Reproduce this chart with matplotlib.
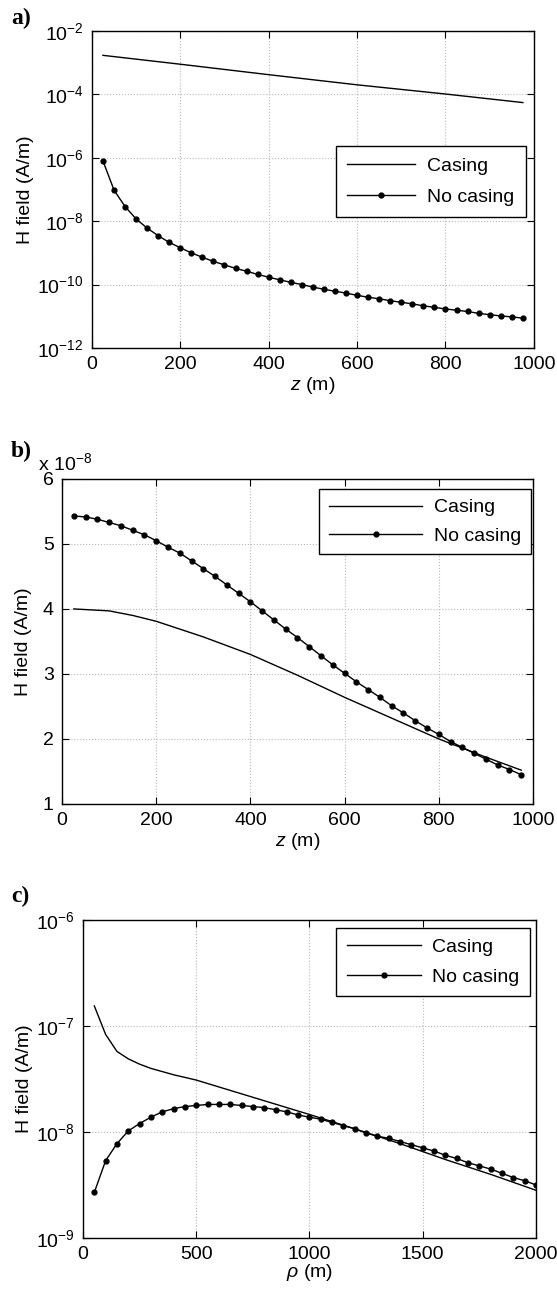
import numpy as np
import matplotlib
matplotlib.use('Agg')
import matplotlib.pyplot as plt
from matplotlib.ticker import LogLocator, NullLocator

plt.rcParams['font.family'] = ['Liberation Sans', 'DejaVu Sans']
plt.rcParams['mathtext.fontset'] = 'custom'
plt.rcParams['mathtext.rm'] = 'Liberation Sans'
plt.rcParams['mathtext.it'] = 'Liberation Sans:italic'
plt.rcParams['font.size'] = 14

# (a) H field vs depth z, log10 values
z_cas_a = [25, 200, 400, 600, 800, 975]
logh_cas_a = [-2.77, -3.05, -3.38, -3.70, -3.99, -4.26]
z_nc_a = list(range(25, 1000, 25))
logh_nc_a = [-6.10, -7.02, -7.54, -7.93, -8.22, -8.46, -8.67, -8.84, -9.00, -9.14,
             -9.27, -9.38, -9.49, -9.58, -9.68, -9.77, -9.85, -9.93, -10.00, -10.08,
             -10.15, -10.21, -10.27, -10.34, -10.40, -10.45, -10.51, -10.56, -10.61,
             -10.67, -10.72, -10.77, -10.81, -10.85, -10.91, -10.95, -10.99, -11.02,
             -11.06]

# (b) H field vs depth z, in units of 1e-8 A/m
z_cas_b = [25, 100, 150, 200, 300, 400, 500, 600, 700, 800, 900, 975]
h_cas_b = [4.00, 3.97, 3.90, 3.81, 3.57, 3.30, 2.98, 2.64, 2.32, 2.00, 1.72, 1.52]
z_nc_b = list(range(25, 1000, 25))
h_nc_b = [5.43, 5.415, 5.38, 5.33, 5.28, 5.21, 5.14, 5.05, 4.95, 4.86, 4.74, 4.62,
          4.50, 4.37, 4.24, 4.11, 3.97, 3.83, 3.69, 3.56, 3.42, 3.28, 3.14, 3.01,
          2.88, 2.76, 2.64, 2.51, 2.40, 2.28, 2.17, 2.07, 1.96, 1.87, 1.78, 1.69,
          1.60, 1.53, 1.45]

# (c) H field vs horizontal offset rho, log10 values
rho_cas_c = [50, 100, 150, 200, 250, 300, 400, 500, 600, 700, 800, 900, 1000,
             1200, 1400, 1600, 1800, 2000]
logh_cas_c = [-6.81, -7.08, -7.24, -7.31, -7.36, -7.40, -7.46, -7.51, -7.575,
              -7.64, -7.705, -7.77, -7.835, -7.97, -8.11, -8.26, -8.40, -8.55]
rho_nc_c = list(range(50, 2001, 50))
logh_nc_c = [-8.57, -8.27, -8.11, -7.99, -7.92, -7.86, -7.81, -7.78, -7.76, -7.75,
             -7.74, -7.74, -7.74, -7.75, -7.76, -7.77, -7.79, -7.81, -7.84, -7.86,
             -7.88, -7.91, -7.94, -7.97, -8.01, -8.04, -8.06, -8.09, -8.12, -8.15,
             -8.18, -8.22, -8.25, -8.29, -8.32, -8.35, -8.39, -8.43, -8.46, -8.50]


def style_axes(ax):
    ax.grid(True, linestyle=':', color='#b8b8b8', linewidth=0.8)
    ax.tick_params(direction='in', top=True, right=True, length=5, width=0.8,
                   labelsize=14, pad=6)
    ax.tick_params(which='minor', length=0)
    for sp in ax.spines.values():
        sp.set_linewidth(1.0)


def draw_lines(ax, xc, yc, xn, yn):
    ax.plot(xc, yc, color='black', linewidth=1.0, label='Casing')
    ax.plot(xn, yn, color='black', linewidth=1.0, marker='o', markersize=3.5,
            label='No casing')


def add_legend(ax, anchor, pad=0.6, spacing=0.6, hlen=3.8):
    leg = ax.legend(loc='upper right', bbox_to_anchor=anchor, borderaxespad=0,
                    fancybox=False, framealpha=1, edgecolor='black',
                    handlelength=hlen, handletextpad=0.6, fontsize=14,
                    borderpad=pad, labelspacing=spacing)
    leg.get_frame().set_linewidth(1.0)


fig = plt.figure(figsize=(5.57, 12.94), dpi=100)

# panel a
ax1 = fig.add_axes([0.165, 0.7311, 0.7935, 0.245])
draw_lines(ax1, z_cas_a, 10.0 ** np.array(logh_cas_a),
           z_nc_a, 10.0 ** np.array(logh_nc_a))
ax1.set_yscale('log')
ax1.set_xlim(0, 1000)
ax1.set_ylim(1e-12, 1e-2)
ax1.yaxis.set_major_locator(LogLocator(base=100.0))
ax1.yaxis.set_minor_locator(NullLocator())
ax1.set_xticks([0, 200, 400, 600, 800, 1000])
ax1.set_xlabel('$z$ (m)', labelpad=1)
ax1.set_ylabel('H field (A/m)', labelpad=2)
style_axes(ax1)
add_legend(ax1, (0.982, 0.637), pad=0.6, spacing=0.65, hlen=3.5)

# panel b
ax2 = fig.add_axes([0.1113, 0.3787, 0.8456, 0.2512])
draw_lines(ax2, z_cas_b, h_cas_b, z_nc_b, h_nc_b)
ax2.set_xlim(0, 1000)
ax2.set_ylim(1, 6)
ax2.set_xticks([0, 200, 400, 600, 800, 1000])
ax2.set_yticks([1, 2, 3, 4, 5, 6])
ax2.set_xlabel('$z$ (m)', labelpad=1)
ax2.set_ylabel('H field (A/m)', labelpad=8)
ax2.text(-0.05, 1.015, r'x 10$^{-8}$', transform=ax2.transAxes,
         ha='left', va='bottom', fontsize=14)
style_axes(ax2)
add_legend(ax2, (0.996, 0.969), pad=0.5, spacing=0.55, hlen=4.8)

# panel c
ax3 = fig.add_axes([0.149, 0.0433, 0.8133, 0.2457])
draw_lines(ax3, rho_cas_c, 10.0 ** np.array(logh_cas_c),
           rho_nc_c, 10.0 ** np.array(logh_nc_c))
ax3.set_yscale('log')
ax3.set_xlim(0, 2000)
ax3.set_ylim(1e-9, 1e-6)
ax3.yaxis.set_major_locator(LogLocator(base=10.0))
ax3.yaxis.set_minor_locator(NullLocator())
ax3.set_xticks([0, 500, 1000, 1500, 2000])
ax3.set_xlabel(r'$\rho$ (m)', labelpad=-1)
ax3.set_ylabel('H field (A/m)', labelpad=2)
style_axes(ax3)
add_legend(ax3, (0.987, 0.975), pad=0.55, spacing=0.6)

# panel letters
for y, lab in [(0.994, 'a)'), (0.6595, 'b)'), (0.3155, 'c)')]:
    fig.text(0.02, y, lab, fontsize=17, fontweight='bold',
             family='Liberation Serif', ha='left', va='top')

fig.savefig('out.png', dpi=100)
